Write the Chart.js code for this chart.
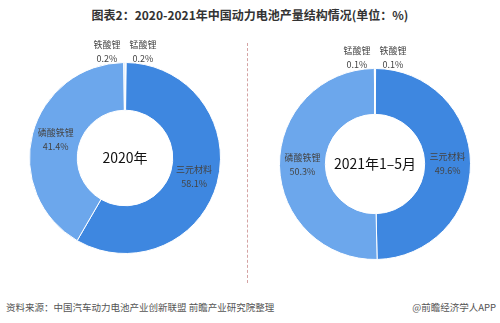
<!DOCTYPE html>
<html>
<head>
<meta charset="utf-8">
<script src="https://cdn.jsdelivr.net/npm/chart.js@4"></script>
<style>
  body { margin: 0; background: #fff; font-family: "Noto Sans CJK SC", "Noto Sans", sans-serif; }
  #wrap { position: relative; width: 500px; height: 323px; overflow: hidden; }
  #title { position: absolute; left: 0; top: 6px; width: 500px; text-align: center; font-size: 12px; font-weight: bold; color: #333; }
  .box { position: absolute; top: 40px; width: 250px; height: 240px; }
  #divider { position: absolute; left: 247px; top: 43px; height: 240px; border-left: 1px dashed #d4a3a3; }
  #source { position: absolute; left: 6px; top: 300px; font-size: 9.5px; color: #555; }
  #app { position: absolute; right: 4px; top: 300px; font-size: 9.5px; color: #555; }
</style>
</head>
<body>
<div id="wrap">
  <div id="title">图表2：2020-2021年中国动力电池产量结构情况(单位：%)</div>
  <div class="box" style="left:0"><canvas id="chart2020"></canvas></div>
  <div class="box" style="left:250px"><canvas id="chart2021"></canvas></div>
  <div id="divider"></div>
  <div id="source">资料来源：中国汽车动力电池产业创新联盟 前瞻产业研究院整理</div>
  <div id="app">@前瞻经济学人APP</div>
</div>
<script>
// 2020年 (clockwise from top)
const labels2020 = ['锰酸锂', '三元材料', '磷酸铁锂', '铁酸锂'];
const values2020 = [0.2, 58.1, 41.4, 0.2];
// 2021年1-5月 (clockwise from top)
const labels2021 = ['铁酸锂', '三元材料', '磷酸铁锂', '锰酸锂'];
const values2021 = [0.1, 49.6, 50.3, 0.1];

function colorFor(name) {
  if (name === '三元材料') return '#3e87e0';
  if (name === '磷酸铁锂') return '#6ca7ec';
  return '#b6d5f6';
}

// slice labels: big slices inside the ring, tiny ones above the top
const sliceLabels = {
  id: 'sliceLabels',
  afterDatasetsDraw(chart) {
    const ctx = chart.ctx;
    const meta = chart.getDatasetMeta(0);
    const names = chart.data.labels;
    const vals = chart.data.datasets[0].data;
    ctx.save();
    ctx.font = '9px "Noto Sans CJK SC", sans-serif';
    ctx.fillStyle = '#444';
    ctx.textAlign = 'center';
    ctx.textBaseline = 'middle';
    meta.data.forEach((arc, i) => {
      const p = arc.getProps(['x', 'y', 'startAngle', 'endAngle', 'innerRadius', 'outerRadius'], true);
      let x, y;
      if (vals[i] < 1) {
        // first slice sits right of 12 o'clock, last one left of it
        const side = i === 0 ? 1 : -1;
        x = p.x + side * 18;
        y = p.y - p.outerRadius - 11;
      } else {
        const mid = (p.startAngle + p.endAngle) / 2;
        const r = (p.innerRadius + p.outerRadius) / 2;
        x = p.x + Math.cos(mid) * r;
        y = p.y + Math.sin(mid) * r;
      }
      ctx.fillText(names[i], x, y - 7);
      ctx.fillText(vals[i].toFixed(1) + '%', x, y + 7);
    });
    ctx.restore();
  }
};

const centerText = {
  id: 'centerText',
  afterDraw(chart, args, opts) {
    const ctx = chart.ctx;
    const arc = chart.getDatasetMeta(0).data[0];
    ctx.save();
    ctx.font = '14px "Noto Sans CJK SC", sans-serif';
    ctx.fillStyle = '#111';
    ctx.textAlign = 'center';
    ctx.textBaseline = 'middle';
    ctx.fillText(opts.text, arc.x, arc.y);
    ctx.restore();
  }
};

function makeDonut(id, names, vals, text, padTop, padBottom, cutout) {
  return new Chart(document.getElementById(id), {
    type: 'doughnut',
    data: {
      labels: names,
      datasets: [{
        data: vals,
        backgroundColor: names.map(colorFor),
        borderColor: '#ffffff',
        borderWidth: 1
      }]
    },
    options: {
      responsive: true,
      maintainAspectRatio: false,
      animation: false,
      cutout: cutout,
      layout: { padding: { top: padTop, bottom: padBottom } },
      plugins: {
        legend: { display: false },
        tooltip: { enabled: false },
        centerText: { text: text }
      }
    },
    plugins: [sliceLabels, centerText]
  });
}

makeDonut('chart2020', labels2020, values2020, '2020年', 22, 26, '50%');
makeDonut('chart2021', labels2021, values2021, '2021年1–5月', 28, 20, '52%');
</script>
</body>
</html>
